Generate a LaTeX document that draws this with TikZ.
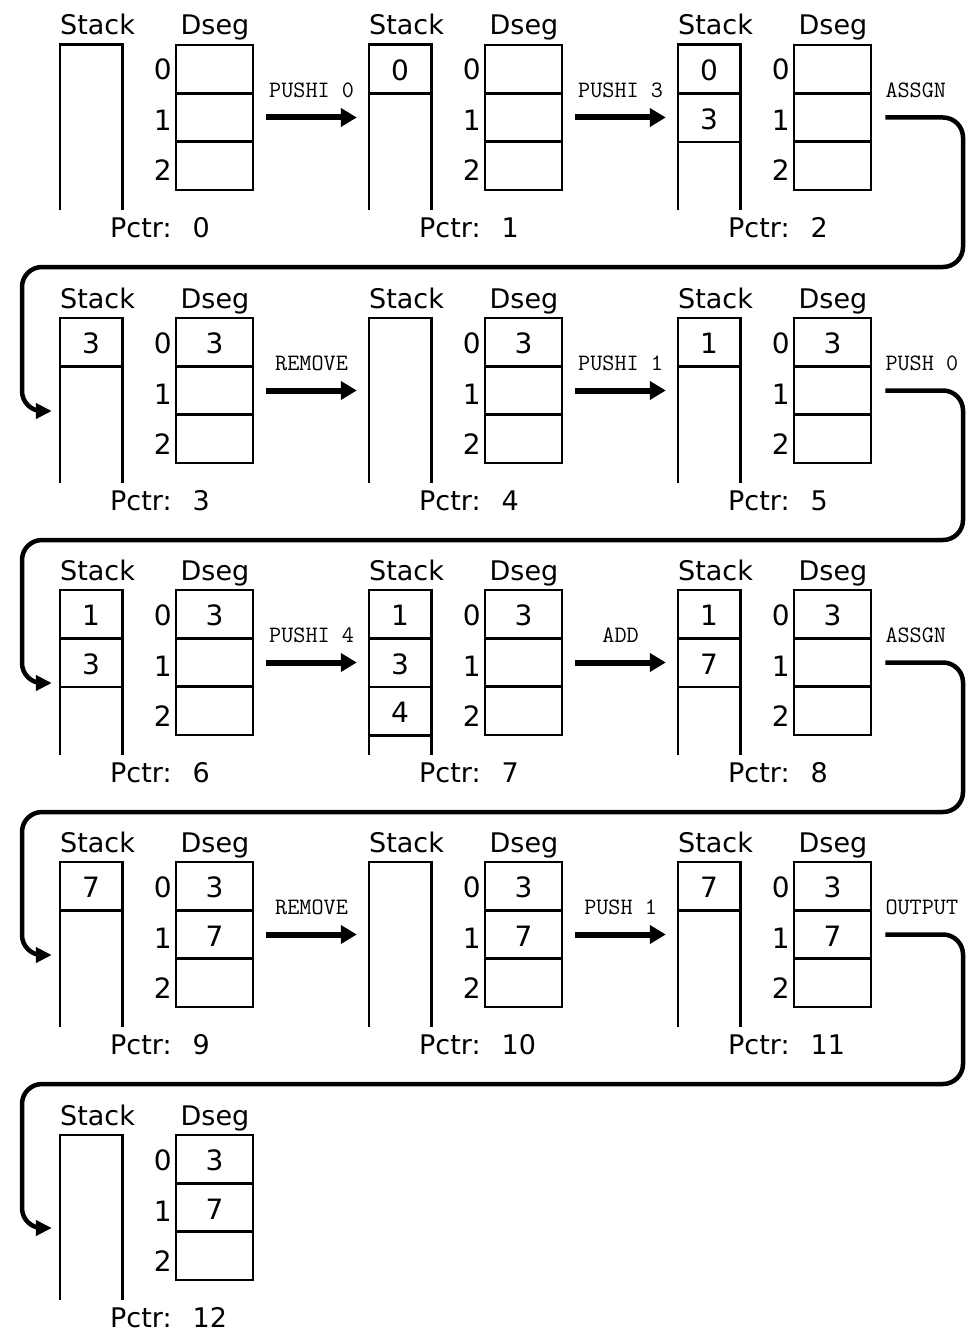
\documentclass[tikz,border=0pt]{standalone}
\usepackage{fontspec}
\setmainfont{DejaVu Sans}
\usetikzlibrary{arrows.meta}
\tikzset{
  boxline/.style={line width=2.6pt, line join=miter},
  stackbox/.style={draw=none, minimum width=62pt, minimum height=165pt, inner sep=0pt},
  dsegbox/.style={draw, line width=2.6pt, minimum width=77pt, minimum height=145pt, inner sep=0pt},
  lbl/.style={inner sep=0pt, font=\fontsize{27}{31}\selectfont},
  idx/.style={inner sep=0pt, font=\fontsize{28}{32}\selectfont},
  val/.style={inner sep=0pt, font=\fontsize{28}{32}\selectfont},
  oplbl/.style={inner sep=0pt, font=\ttfamily\fontsize{23.5}{26}\selectfont},
  harrow/.style={line width=6pt, -{Triangle[length=16pt,width=18pt]}, shorten <=12pt, shorten >=12pt},
  conn/.style={line width=4.5pt, rounded corners=20pt, -{Triangle[length=16pt,width=15pt]}},
}
% panel: id, X, Y, pctr
\newcommand\panel[4]{%
  \node[stackbox] (s#1) at ({#2+31},{#3+82.5}) {};
  \draw[boxline] (s#1.south west) -- (s#1.north west) -- (s#1.north east) -- (s#1.south east);
  \node[lbl, anchor=base west] (st#1) at (#2,{#3-10}) {Stack};
  \node[dsegbox] (d#1) at ({#2+154.5},{#3+72.5}) {};
  \draw[boxline] ({#2+116},{#3+48.3}) -- ({#2+193},{#3+48.3});
  \draw[boxline] ({#2+116},{#3+96.7}) -- ({#2+193},{#3+96.7});
  \node[lbl, anchor=base] (dl#1) at ({#2+155},{#3-10}) {Dseg};
  \node[idx, anchor=base east] (ix#1-0) at ({#2+112},{#3+35}) {0};
  \node[idx, anchor=base east] (ix#1-1) at ({#2+112},{#3+86}) {1};
  \node[idx, anchor=base east] (ix#1-2) at ({#2+112},{#3+136}) {2};
  \node[lbl, anchor=base west] (pc#1) at ({#2+50},{#3+192}) {Pctr:\hspace{21pt}#4};
}
% stack cell: id, X, Y, k, value
\newcommand\scell[5]{%
  \draw[boxline] (#2,{#3+48.5*(#4+1)}) -- ({#2+62},{#3+48.5*(#4+1)});
  \node[val] (sv#1-#4) at ({#2+31},{#3+48.5*(#4+0.5)+1.5}) {#5};
}
% dseg cell: id, X, Y, k, value
\newcommand\dcell[5]{%
  \node[val] (dv#1-#4) at ({#2+154.5},{#3+48.33*(#4+0.5)+1.5}) {#5};
}
\begin{document}
\begin{tikzpicture}[x=1pt,y=-1pt]
\useasboundingbox (0,0) rectangle (968,1340);
% Row 1
\panel{0}{60}{45}{0}
\panel{1}{369}{45}{1}
\scell{1}{369}{45}{0}{0}
\panel{2}{678}{45}{2}
\scell{2}{678}{45}{0}{0}
\scell{2}{678}{45}{1}{3}
% Row 2
\panel{3}{60}{318}{3}
\scell{3}{60}{318}{0}{3}
\dcell{3}{60}{318}{0}{3}
\panel{4}{369}{318}{4}
\dcell{4}{369}{318}{0}{3}
\panel{5}{678}{318}{5}
\scell{5}{678}{318}{0}{1}
\dcell{5}{678}{318}{0}{3}
% Row 3
\panel{6}{60}{590}{6}
\scell{6}{60}{590}{0}{1}
\scell{6}{60}{590}{1}{3}
\dcell{6}{60}{590}{0}{3}
\panel{7}{369}{590}{7}
\scell{7}{369}{590}{0}{1}
\scell{7}{369}{590}{1}{3}
\scell{7}{369}{590}{2}{4}
\dcell{7}{369}{590}{0}{3}
\panel{8}{678}{590}{8}
\scell{8}{678}{590}{0}{1}
\scell{8}{678}{590}{1}{7}
\dcell{8}{678}{590}{0}{3}
% Row 4
\panel{9}{60}{862}{9}
\scell{9}{60}{862}{0}{7}
\dcell{9}{60}{862}{0}{3}
\dcell{9}{60}{862}{1}{7}
\panel{10}{369}{862}{10}
\dcell{10}{369}{862}{0}{3}
\dcell{10}{369}{862}{1}{7}
\panel{11}{678}{862}{11}
\scell{11}{678}{862}{0}{7}
\dcell{11}{678}{862}{0}{3}
\dcell{11}{678}{862}{1}{7}
% Row 5
\panel{12}{60}{1135}{12}
\dcell{12}{60}{1135}{0}{3}
\dcell{12}{60}{1135}{1}{7}
% horizontal arrows
\draw[harrow] (d0.east) -- node[oplbl, midway, anchor=base, yshift=20pt] (op0) {PUSHI 0} (d0.east -| s1.west);
\draw[harrow] (d1.east) -- node[oplbl, midway, anchor=base, yshift=20pt] (op1) {PUSHI 3} (d1.east -| s2.west);
\draw[harrow] (d3.east) -- node[oplbl, midway, anchor=base, yshift=20pt] (op3) {REMOVE} (d3.east -| s4.west);
\draw[harrow] (d4.east) -- node[oplbl, midway, anchor=base, yshift=20pt] (op4) {PUSHI 1} (d4.east -| s5.west);
\draw[harrow] (d6.east) -- node[oplbl, midway, anchor=base, yshift=20pt] (op6) {PUSHI 4} (d6.east -| s7.west);
\draw[harrow] (d7.east) -- node[oplbl, midway, anchor=base, yshift=20pt] (op7) {ADD} (d7.east -| s8.west);
\draw[harrow] (d9.east) -- node[oplbl, midway, anchor=base, yshift=20pt] (op9) {REMOVE} (d9.east -| s10.west);
\draw[harrow] (d10.east) -- node[oplbl, midway, anchor=base, yshift=20pt] (op10) {PUSH 1} (d10.east -| s11.west);
% right-side labels
\node[oplbl, anchor=base west] (op2) at ([xshift=13pt,yshift=20pt]d2.east) {ASSGN};
\node[oplbl, anchor=base west] (op5) at ([xshift=13pt,yshift=20pt]d5.east) {PUSH 0};
\node[oplbl, anchor=base west] (op8) at ([xshift=13pt,yshift=20pt]d8.east) {ASSGN};
\node[oplbl, anchor=base west] (op11) at ([xshift=13pt,yshift=20pt]d11.east) {OUTPUT};
% row-wrapping connectors
\coordinate (ra) at (963,267);  \coordinate (la) at (22,267);
\coordinate (rb) at (963,540);  \coordinate (lb) at (22,540);
\coordinate (rc) at (963,812);  \coordinate (lc) at (22,812);
\coordinate (rd) at (963,1084); \coordinate (ld) at (22,1084);
\draw[conn] ([xshift=13pt]d2.east) -| (ra) -- (la) |- ([xshift=-8pt,yshift=-10.5pt]s3.west);
\draw[conn] ([xshift=13pt]d5.east) -| (rb) -- (lb) |- ([xshift=-8pt,yshift=-10.5pt]s6.west);
\draw[conn] ([xshift=13pt]d8.east) -| (rc) -- (lc) |- ([xshift=-8pt,yshift=-10.5pt]s9.west);
\draw[conn] ([xshift=13pt]d11.east) -| (rd) -- (ld) |- ([xshift=-8pt,yshift=-10.5pt]s12.west);
\end{tikzpicture}
\end{document}
